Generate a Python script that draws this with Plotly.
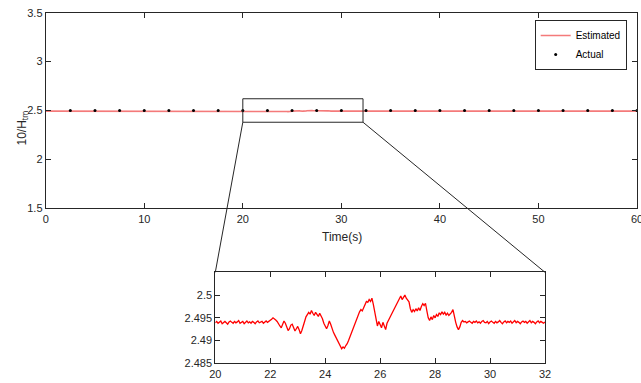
import numpy as np
import plotly.graph_objects as go

# ---------------- data ----------------
# Estimated 10/H_tm, sampled every 0.05 s from 20.00 s to 32.00 s
est_zoom = [
    # 20.00 - 21.95
    2.4939, 2.4942, 2.4938, 2.4941, 2.4943, 2.4937, 2.4940, 2.4942, 2.4939, 2.4936,
    2.4941, 2.4943, 2.4940, 2.4938, 2.4942, 2.4939, 2.4941, 2.4944, 2.4938, 2.4940,
    2.4942, 2.4937, 2.4940, 2.4943, 2.4939, 2.4941, 2.4938, 2.4942, 2.4940, 2.4937,
    2.4941, 2.4943, 2.4939, 2.4940, 2.4942, 2.4938, 2.4941, 2.4943, 2.4940, 2.4942,
    # 22.00 - 22.10
    2.4944, 2.4947, 2.4950,
    # 22.15 - 29.05
    2.4948, 2.4945, 2.4942, 2.4936, 2.4932, 2.4928, 2.4935, 2.4943, 2.4938, 2.4930,
    2.4922, 2.4926, 2.4934, 2.4936, 2.4929, 2.4921, 2.4926, 2.4931, 2.4924, 2.4915,
    2.4922, 2.4930, 2.4942, 2.4952, 2.4958, 2.4962, 2.4958, 2.4966, 2.4960, 2.4955,
    2.4962, 2.4957, 2.4953, 2.4960, 2.4955, 2.4948, 2.4938, 2.4930, 2.4926, 2.4933,
    2.4943, 2.4936, 2.4925, 2.4918, 2.4912, 2.4906, 2.4900, 2.4892, 2.4887, 2.4882,
    2.4886, 2.4883, 2.4889, 2.4893, 2.4900, 2.4908, 2.4915, 2.4925, 2.4933, 2.4940,
    2.4948, 2.4955, 2.4963, 2.4968, 2.4965, 2.4972, 2.4980, 2.4986, 2.4984, 2.4990,
    2.4986, 2.4993, 2.4980, 2.4962, 2.4945, 2.4932, 2.4942, 2.4935, 2.4928, 2.4940,
    2.4933, 2.4924, 2.4938, 2.4946, 2.4950, 2.4956, 2.4962, 2.4968, 2.4975, 2.4980,
    2.4988, 2.4994, 2.4998, 2.4990, 2.4996, 2.5000, 2.4993, 2.4990, 2.4985, 2.4970,
    2.4962, 2.4968, 2.4964, 2.4970, 2.4965, 2.4972, 2.4966, 2.4975, 2.4981, 2.4977,
    2.4982, 2.4965, 2.4950, 2.4944, 2.4952, 2.4946, 2.4955, 2.4950, 2.4957, 2.4953,
    2.4961, 2.4957, 2.4963, 2.4958, 2.4962, 2.4956, 2.4960, 2.4955, 2.4958, 2.4962,
    2.4968, 2.4952, 2.4940, 2.4930, 2.4924, 2.4930, 2.4940, 2.4944, 2.4941,
    # 29.10 - 32.00
    2.4942, 2.4939, 2.4941, 2.4943, 2.4940, 2.4938, 2.4942, 2.4940, 2.4943, 2.4939,
    2.4941, 2.4938, 2.4942, 2.4944, 2.4940, 2.4939, 2.4942, 2.4937, 2.4941, 2.4943,
    2.4940, 2.4938, 2.4942, 2.4939, 2.4941, 2.4944, 2.4940, 2.4937, 2.4941, 2.4943,
    2.4939, 2.4942, 2.4940, 2.4943, 2.4938, 2.4941, 2.4944, 2.4939, 2.4942, 2.4940,
    2.4937, 2.4941, 2.4943, 2.4940, 2.4942, 2.4938, 2.4941, 2.4944, 2.4939, 2.4942,
    2.4940, 2.4937, 2.4941, 2.4943, 2.4939, 2.4942, 2.4940, 2.4938, 2.4941,
]
zoom_t0 = 20.0
zoom_dt = 0.05
t_zoom = np.round(zoom_t0 + zoom_dt * np.arange(len(est_zoom)), 2)

# Estimated outside the zoomed window (flat)
t_before = [0.0]
est_before = [2.4940]
t_after = [60.0]
est_after = [2.4940]

# Actual values (markers)
t_actual = [2.5, 5, 7.5, 10, 12.5, 15, 17.5, 20, 22.5, 25, 27.5, 30, 32.5, 35,
            37.5, 40, 42.5, 45, 47.5, 50, 52.5, 55, 57.5, 60]
actual = [2.5] * len(t_actual)

main_xticks = [0, 10, 20, 30, 40, 50, 60]
main_yticks = [1.5, 2, 2.5, 3, 3.5]
main_yticktext = ["1.5", "2", "2.5", "3", "3.5"]
zoom_xticks = [20, 22, 24, 26, 28, 30, 32]
zoom_yticks = [2.485, 2.49, 2.495, 2.5]
zoom_yticktext = ["2.485", "2.49", "2.495", "2.5"]

# ---------------- layout geometry ----------------
W, H = 641, 383
main_x = [45.7 / W, 637.0 / W]
main_y = [1 - 208.3 / H, 1 - 12.7 / H]
ins_x = [215.3 / W, 545.0 / W]
ins_y = [1 - 363.3 / H, 1 - 272.3 / H]
main_xr = [0, 60]
main_yr = [1.5, 3.5]
rect_x = [20.0, 32.2]
rect_y = [2.38, 2.62]


def to_px(v, rng, dom):
    return dom[0] + (v - rng[0]) / (rng[1] - rng[0]) * (dom[1] - dom[0])


t_full = list(t_before) + list(t_zoom) + list(t_after)
est_full = list(est_before) + list(est_zoom) + list(est_after)

font_fam = "Liberation Sans, Arial, Helvetica, sans-serif"
axcol = "#262626"

fig = go.Figure()
fig.add_trace(go.Scatter(
    x=t_full, y=est_full, mode="lines", name="Estimated",
    line=dict(color="rgba(240,70,70,0.72)", width=1.6),
    xaxis="x", yaxis="y"))
fig.add_trace(go.Scatter(
    x=t_actual, y=actual, mode="markers", name="Actual",
    marker=dict(color="black", size=3),
    xaxis="x", yaxis="y"))
fig.add_trace(go.Scatter(
    x=t_zoom, y=est_zoom, mode="lines", showlegend=False,
    line=dict(color="#ff0000", width=1.3),
    xaxis="x2", yaxis="y2"))

axis_common = dict(
    showline=True, linecolor=axcol, linewidth=1, mirror="ticks",
    ticks="inside", ticklen=5, tickcolor=axcol, tickwidth=1,
    showgrid=False, zeroline=False, automargin=False,
    ticklabeloverflow="allow",
    tickfont=dict(family=font_fam, size=11, color=axcol),
)

fig.update_layout(
    width=W, height=H,
    margin=dict(l=0, r=0, t=0, b=0, autoexpand=False),
    paper_bgcolor="white", plot_bgcolor="white",
    font=dict(family=font_fam, size=11, color=axcol),
    xaxis=dict(domain=main_x, range=main_xr, tickvals=main_xticks,
               anchor="y", **axis_common),
    yaxis=dict(domain=main_y, range=main_yr, tickvals=main_yticks,
               ticktext=main_yticktext, anchor="x", **axis_common),
    xaxis2=dict(domain=ins_x, range=[20, 32], tickvals=zoom_xticks,
                anchor="y2", **axis_common),
    yaxis2=dict(domain=ins_y, range=[2.485, 2.505], tickvals=zoom_yticks,
                ticktext=zoom_yticktext, anchor="x2", **axis_common),
    legend=dict(x=626.7 / W, y=1 - 20 / H, xanchor="right", yanchor="top",
                bordercolor=axcol, borderwidth=1, bgcolor="white",
                font=dict(family=font_fam, size=10, color="black"),
                tracegroupgap=0, itemwidth=30),
    showlegend=True,
)

# zoom rectangle on main axes
fig.add_shape(type="rect", xref="x", yref="y",
              x0=rect_x[0], x1=rect_x[1], y0=rect_y[0], y1=rect_y[1],
              line=dict(color=axcol, width=1))

# connector lines
rx0 = to_px(rect_x[0], main_xr, main_x)
rx1 = to_px(rect_x[1], main_xr, main_x)
ry0 = to_px(rect_y[0], main_yr, main_y)
fig.add_shape(type="line", xref="paper", yref="paper",
              x0=rx0, y0=ry0, x1=ins_x[0], y1=ins_y[1],
              line=dict(color=axcol, width=1))
fig.add_shape(type="line", xref="paper", yref="paper",
              x0=rx1, y0=ry0, x1=ins_x[1], y1=ins_y[1],
              line=dict(color=axcol, width=1))

# axis titles
fig.add_annotation(text="Time(s)", xref="paper", yref="paper",
                   x=341.5 / W, y=1 - 237 / H, showarrow=False,
                   font=dict(family=font_fam, size=12, color=axcol))
fig.add_annotation(text="10/H<sub>tm</sub>", xref="paper", yref="paper",
                   x=12 / W, y=1 - 109 / H, showarrow=False, textangle=-90,
                   font=dict(family=font_fam, size=12, color=axcol))

fig.write_html("out.html",
               config={"displayModeBar": False},
               post_script="document.body.style.margin='0px';")
